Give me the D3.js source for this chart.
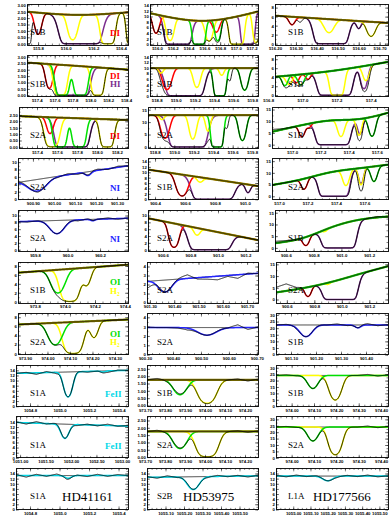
<!DOCTYPE html>
<html>
<head>
<meta charset="utf-8">
<script src="https://cdn.jsdelivr.net/npm/d3@7"></script>
<style>
  body { margin: 0; background: #fff; }
  svg { display: block; }
</style>
</head>
<body>
<svg id="chart" width="389" height="518"></svg>
<script>
// ---- data: one entry per panel, row by row (3 stars x 10 line windows) ----
const panelNames = ["S1B","S1B","S1B", "S1B","S1B","S1B", "S2A","S2A","S1B", "S2A","S1B","S2A",
  "S2A","S2A","S1B", "S1B","S2A","S2A", "S2A","S2A","S1B", "S1A","S1B","S1B",
  "S1A","S2A","S2A", "S1A","S2B","L1A"];
const starNames = ["HD41161", "HD53975", "HD177566"];
const speciesTags = [["DI"], ["DI","HI"], ["DI"], ["NI"], ["NI"], ["OI","H2"], ["OI","H2"], ["FeII"], ["FeII"], []];

const xDomains = [
  [515.72,516.45],[515.91,517.28],[516.20,516.74],
  [517.29,518.42],[518.73,519.86],[516.84,517.50],
  [517.22,518.31],[518.73,519.86],[516.857,517.678],
  [900.829,901.352],[900.353,901.087],[516.95,517.764],
  [959.695,960.372],[900.491,901.291],[900.521,901.336],
  [973.687,974.42],[901.288,901.745],[900.521,901.336],
  [973.869,974.358],[900.307,900.704],[901.04,901.488],
  [1054.705,1055.464],[973.71,974.265],[973.93,974.431],
  [1050.92,1053.12],[973.71,974.265],[973.93,974.431],
  [1054.705,1055.464],[1055.0,1055.6],[1054.9,1055.55]
];
const xTicks = [
  ["515.8","516.0","516.2","516.4"],["516.0","516.2","516.4","516.6","516.8","517.0","517.2"],["516.20","516.30","516.40","516.50","516.60","516.70"],
  ["517.4","517.6","517.8","518.0","518.2","518.4"],["518.8","519.0","519.2","519.4","519.6","519.8"],["516.8","517.0","517.2","517.4"],
  ["517.4","517.6","517.8","518.0","518.2"],["518.8","519.0","519.2","519.4","519.6","519.8"],["516.8","517.0","517.2","517.4","517.6"],
  ["900.90","901.00","901.10","901.20","901.30"],["900.4","900.6","900.8","901.0"],["517.0","517.2","517.4","517.6"],
  ["959.8","960.0","960.2"],["900.6","900.8","901.0","901.2"],["900.6","900.8","901.0","901.2"],
  ["973.8","974.0","974.2","974.4"],["901.30","901.40","901.50","901.60","901.70"],["900.6","900.8","901.0","901.2"],
  ["973.90","974.00","974.10","974.20","974.30"],["900.30","900.40","900.50","900.60","900.70"],["901.10","901.20","901.30","901.40"],
  ["1054.8","1055.0","1055.2","1055.4"],["973.70","973.80","973.90","974.00","974.10","974.20"],["974.00","974.10","974.20","974.30","974.40"],
  ["1051.00","1051.50","1052.00","1052.50","1053.00"],["973.70","973.80","973.90","974.00","974.10","974.20"],["974.00","974.10","974.20","974.30","974.40"],
  ["1054.8","1055.0","1055.2","1055.4"],["1055.10","1055.20","1055.30","1055.40","1055.50"],["1055.00","1055.10","1055.20","1055.30","1055.40","1055.50"]
];
const yDomains = [
  [-0.1,3.1],[-0.3,14.5],[-0.3,8.8],
  [-0.1,3.1],[-0.3,14.5],[-0.3,8.8],
  [-0.1,3.1],[-0.5,16],[-1.5,16],
  [-0.2,10.9],[-0.2,15],[-1.5,16],
  [-0.5,11.5],[-0.5,11.5],[-1.5,16],
  [-0.3,8.9],[-0.05,4.5],[-1.5,16],
  [-0.2,8.8],[0,4.4],[0,31],
  [0,16],[-0.05,2.75],[0,32],
  [0,16],[-0.05,2.75],[0,32],
  [0,16],[0,16],[0,16]
];
const Y3 = ["0.00","0.50","1.00","1.50","2.00","2.50","3.00"];
const Y14 = ["0","2","4","6","8","10","12","14"];
const Y8 = ["0","2","4","6","8"];
const Y10 = ["0","2","4","6","8","10"];
const Y15 = ["0","5","10","15"];
const Y4 = ["0","1","2","3","4"];
const Y30 = ["0","5","10","15","20","25","30"];
const Y25 = ["0.00","0.50","1.00","1.50","2.00","2.50"];
const yTicks = [Y3,Y14,Y8, Y3,Y14,Y8, Y25,Y15,Y15, Y10,Y14,Y15, Y10,Y10,Y15,
  Y8,Y4,Y15, Y8,Y4,Y30, Y14,Y25,Y30, Y14,Y25,Y30, Y14,Y14,Y14];

// continuum control values across each window
const continua = [
  [2.5,2.14,2.45],[11.2,6.9,11.8],[6.2,5.4,4.6],
  [2.55,2.3,2.0],[10,10,10],[4.1,5.2,7.4],
  [2.4,2.25,2.1],[12.8,12.8,12.8],[5.5,8.3,10.8,10.3,13.6],
  [4.5,6.8,9.0],[11,8,4.9],[4.8,6.9,10.6,11.9,13.5],
  [8.2,8.7,9.2],[9.2,6.0,2.8],[2.0,3.6,9.2,12.4,13.4],
  [6.5,7.4,8.3],[2.35,2.8,3.25],[3.0,4.8,7.4,11.0,14.2],
  [6.4,6.95,7.5],[2.9,2.9,2.9],[22.4,22.4,22.4],
  [12.8,13.4,14.0],[1.75,1.75,1.75],[24,24,24],
  [13.8,13.0,12.4],[1.75,1.75,1.75],[24,24,24],
  [13.2,13.2,13.2],[12.5,12.8,13.1],[13,13,13]
];

// absorption components: [species, centre, optical depth, width]
const components = [
  [["obs",515.713,30,0.022],["DI",515.80,1.2,0.029],["HI",516.107,50,0.080],["H2",516.05,2,0.0365],["H2",516.304,10,0.0365],["H2",516.487,20,0.029]],
  [["DI",515.986,1.0,0.05],["DI",516.75,0.7,0.05],["HI",516.265,50,0.089],["HI",517.15,30,0.05],["H2",516.164,2,0.05],["H2",516.66,2,0.05],["H2",517.01,20,0.057],["H2",517.255,3,0.038],["OI",516.53,20,0.05],["OI",516.77,2,0.038]],
  [["DI",516.281,0.35,0.019],["HI",516.468,50,0.043],["HI",516.60,0.4,0.014],["H2",516.458,0.8,0.029],["H2",516.659,1.1,0.024],["obs",516.32,0.2,0.014]],
  [["DI",517.539,1.5,0.045],["HI",517.80,50,0.10],["OI",517.685,8,0.057],["OI",517.89,8,0.057],["H2",517.663,6,0.057],["H2",518.08,8,0.051]],
  [["DI",518.908,1.5,0.052],["HI",519.096,50,0.105],["H2",518.845,0.2,0.031],["H2",519.22,1.2,0.042],["H2",519.48,0.3,0.031],["OI",519.46,15,0.042],["OI",519.72,1.6,0.042],["obs",519.565,0.6,0.021]],
  [["DI",516.963,0.5,0.02],["DI",517.033,0.3,0.018],["OI",516.898,0.7,0.02],["OI",516.992,0.7,0.023],["H2",516.922,0.6,0.023],["H2",517.202,10,0.029],["H2",517.371,0.7,0.023],["HI",517.19,50,0.053],["HI",517.36,1.5,0.023]],
  [["DI",517.53,0.8,0.04],["H2",517.55,5,0.06],["H2",518.10,8,0.05],["OI",517.63,8,0.05],["OI",517.82,8,0.05],["HI",517.75,50,0.09]],
  [["DI",518.905,1.3,0.051],["HI",519.14,50,0.103],["H2",518.874,0.15,0.031],["H2",519.19,1.4,0.041],["H2",519.346,0.7,0.031],["OI",519.44,15,0.041],["OI",519.70,1.6,0.041],["obs",519.54,0.5,0.021]],
  [["DI",517.069,0.9,0.025],["DI",517.119,0.2,0.021],["HI",517.289,50,0.064],["HI",517.48,0.9,0.021],["H2",517.345,1.1,0.028],["H2",517.473,1.0,0.021],["OI",517.565,1.2,0.028]],
  [["NI",900.919,0.9,0.052],["NI",901.162,0.15,0.019]],
  [["DI",900.58,2.0,0.04],["HI",900.787,50,0.073],["HI",901.02,0.8,0.02],["H2",900.70,0.25,0.027]],
  [["DI",517.175,0.9,0.025],["HI",517.385,50,0.056],["HI",517.575,0.8,0.021],["H2",517.469,0.9,0.028],["H2",517.575,0.9,0.021],["OI",517.666,0.7,0.028]],
  [["NI",959.935,0.6,0.055],["NI",960.156,0.05,0.018]],
  [["DI",900.68,2.4,0.036],["HI",900.942,50,0.08],["H2",900.847,0.4,0.029]],
  [["DI",900.744,1.5,0.025],["HI",900.982,50,0.065],["H2",900.882,0.1,0.022]],
  [["OI",973.953,1.3,0.053],["H2",974.033,5,0.053],["H2",974.146,0.7,0.033]],
  [["NI",901.362,0.75,0.033]],
  [["DI",900.754,1.4,0.025],["HI",900.987,50,0.066],["H2",900.90,0.1,0.022]],
  [["OI",974.034,1.25,0.036],["H2",974.114,5,0.036],["H2",974.207,0.7,0.022]],
  [["NI",900.522,0.33,0.043]],
  [["NI",901.16,0.5,0.032],["NI",901.368,0.1,0.016]],
  [["FeII",1055.058,1.3,0.034],["FeII",1055.295,0.03,0.02]],
  [["OI",973.875,0.87,0.04],["H2",974.01,2.45,0.045]],
  [["OI",974.095,0.55,0.03],["H2",974.195,1.6,0.03]],
  [["FeII",1051.88,0.55,0.1]],
  [["OI",973.875,1.1,0.04],["H2",974.01,4.5,0.045]],
  [["OI",974.095,0.6,0.03],["H2",974.195,2.3,0.03]],
  [["FeII",1055.058,0.08,0.03]],
  [["FeII",1055.25,0.5,0.04]],
  [["FeII",1055.2,0.15,0.04]]
];

// observed-minus-model wiggles, evenly spread over each window (null = none)
const residuals = [
  null,null,null, null,null,null, null,null,[1.0,0.3,0,0,0,0,0,0,0,0,0,0],
  [0.4,0.2,-0.3,0.2,-0.2,0.3,-0.3,0.2,0.3,-0.2,0.3,0],null,null,
  [0,-0.2,0.1,-0.1,0,0.2,-0.3,0.2,0,0.3,-0.2,0.1],null,[0.8,0.5,0.2,0,0,0,0,0,0,0,0.4,-0.3],
  null,[-0.8,0.1,0,0.1,0.4,-0.15,-0.25,-0.4,-0.1,-0.4,0.1,-0.05],[2.2,3.0,0.8,0,0,0,0,0,0,0,0,0],
  null,[0.05,0,0,-0.05,-0.2,-0.05,0,0.05,0,0.3,-0.2,0.05],[0,0.5,-0.5,0,0.3,0,0.8,-0.5,0,1.0,-0.6,0.3],
  [0,0.3,-0.6,0.4,-0.5,0,0.2,-0.3,0,-0.6,0.2,0],[0,0.1,-0.05,0.08,0,0,-0.03,0,0,0.06,-0.08,0.05],[0,0.5,-0.3,0,0,0,0,0,0,0.8,-0.5,0.5],
  [0.3,-0.5,0.6,-0.2,0.4,0,-0.4,0.3,-0.3,0.5,-0.2,0.2],[0,0.08,-0.05,0.05,0,0,0,0,0,0.05,-0.06,0.04],[0,0.5,-0.3,0,0,0,0,0,0,0.8,-0.5,0.5],
  [0.4,-0.6,0.5,-0.3,0.6,-0.5,0.2,-0.4,0.5,-0.3,0.4,0],[0.3,-0.4,0.5,-0.2,0.3,0,-0.3,0.4,-0.2,0.3,-0.4,0.2],[0.3,-0.3,0.4,-0.2,0.2,0,-0.3,0.3,-0.2,0.4,-0.3,0.1]
];

// ---- layout & style ----
const rowTop = r => 4 + r * 51.6;
const panelH = 41;
const leftEdges = [[27,150,275],[27,150,275],[19,148,272],[18,148,272],[18,148,275],
  [18,147,276],[18,147,276],[16,147,276],[16,147,276],[16,147,276]];
const rightEdges = [128, 258, 388];
const nameX = [30, 157, 288];
const starX = [62, 183, 313];
const speciesColor = {DI: "#ff0000", HI: "#7b2d8e", H2: "#ffff00", OI: "#00e000", NI: "#2424ff", FeII: "#00d8e8"};
const drawOrder = ["HI", "DI", "H2", "OI", "NI", "FeII"];
const contStyle = ["olive","olive","olive","olive","olive","green","olive","olive","green","plain","olive","green",
  "plain","olive","green","olive","plain","green","olive","plain","plain","plain","olive","plain",
  "plain","olive","plain","plain","plain","plain"];
const contColor = {olive: "#8a7d00", green: "#10c010"};
const tickFont = "Liberation Sans, Arial, sans-serif";
const textFont = "Liberation Serif, Times New Roman, serif";

const svg = d3.select("#chart");
const defs = svg.append("defs");
const nSamples = 400;

function minorValues(major, lo, hi, parts) {
  const step = (major[1] - major[0]) / parts;
  const out = [];
  const start = major[0] + Math.ceil((lo - major[0]) / step) * step;
  for (let v = start; v <= hi + 1e-9; v += step) out.push(v);
  return out;
}

function styleAxis(g) {
  g.attr("font-size", 4.3).attr("font-family", tickFont).attr("font-weight", "bold");
  g.select(".domain").remove();
  g.selectAll("line").attr("stroke-width", 0.5);
}

for (let i = 0; i < panelNames.length; i++) {
  const r = Math.floor(i / 3), c = i % 3;
  const L = leftEdges[r][c], R = rightEdges[c], T = rowTop(r), B = T + panelH;
  const [a, b] = xDomains[i];
  const x = d3.scaleLinear().domain(xDomains[i]).range([L, R]);
  const y = d3.scaleLinear().domain(yDomains[i]).range([B, T]);

  defs.append("clipPath").attr("id", "clip" + i)
    .append("rect").attr("x", L).attr("y", T).attr("width", R - L).attr("height", panelH);

  const g = svg.append("g");
  const plot = g.append("g").attr("clip-path", `url(#clip${i})`);

  const cont = d3.interpolateBasis(continua[i]);
  const resid = residuals[i] ? d3.piecewise(d3.interpolateNumber, residuals[i]) : () => 0;
  const comps = components[i];
  const tau = (wl, keep) => d3.sum(comps.filter(keep), d => d[2] * Math.exp(-(((wl - d[1]) / d[3]) ** 2)));
  const grid = d3.range(nSamples + 1).map(j => a + (b - a) * j / nSamples);
  const tOf = wl => (wl - a) / (b - a);
  const line = d3.line().x(d => x(d[0])).y(d => y(d[1]));

  const contPts = grid.map(wl => [wl, cont(tOf(wl))]);
  const style = contStyle[i];

  if (style === "plain") {
    plot.append("path").attr("d", line(contPts)).attr("fill", "none")
      .attr("stroke", "#000").attr("stroke-width", 0.8);
  }

  const present = drawOrder.filter(s => comps.some(d => d[0] === s));
  present.forEach(s => {
    const pts = grid.map(wl => [wl, cont(tOf(wl)) * Math.exp(-tau(wl, d => d[0] === s))]);
    plot.append("path").attr("d", line(pts)).attr("fill", "none")
      .attr("stroke", speciesColor[s]).attr("stroke-width", 1.5).attr("stroke-linejoin", "round");
  });

  if (style !== "plain") {
    plot.append("path").attr("d", line(contPts)).attr("fill", "none")
      .attr("stroke", contColor[style]).attr("stroke-width", 2.2);
    plot.append("path").attr("d", line(contPts)).attr("fill", "none")
      .attr("stroke", "#000").attr("stroke-width", 0.6);
  }

  const obs = grid.map(wl => [wl, cont(tOf(wl)) * Math.exp(-tau(wl, () => true)) + resid(tOf(wl))]);
  plot.append("path").attr("d", line(obs)).attr("fill", "none")
    .attr("stroke", "#000").attr("stroke-width", 0.9).attr("stroke-linejoin", "round");

  // frame
  g.append("rect").attr("x", L).attr("y", T).attr("width", R - L).attr("height", panelH)
    .attr("fill", "none").attr("stroke", "#000").attr("stroke-width", 0.9)
    .attr("shape-rendering", "crispEdges");

  // x axes (bottom with labels, top without), major + minor ticks
  const xs = xTicks[i].filter(s => x(+s) >= L - 7 && x(+s) <= Math.min(R + 7, 382));
  const xv = xs.map(Number);
  const xAll = xTicks[i].map(Number);
  const xb = g.append("g").attr("transform", `translate(0,${B})`)
    .call(d3.axisBottom(x).tickValues(xv).tickFormat((d, j) => xs[j])
      .tickSizeInner(-3).tickSizeOuter(0).tickPadding(2.3));
  xb.selectAll(".tick").filter(d => d < a || d > b).select("line").remove();
  styleAxis(xb);
  const xMinor = minorValues(xAll, a, b, 4);
  g.append("g").attr("transform", `translate(0,${B})`)
    .call(d3.axisBottom(x).tickValues(xMinor).tickFormat("").tickSizeInner(-1.5).tickSizeOuter(0)).call(styleAxis);
  g.append("g").attr("transform", `translate(0,${T})`)
    .call(d3.axisTop(x).tickValues(xv.filter(v => v >= a && v <= b)).tickFormat("").tickSizeInner(-3).tickSizeOuter(0)).call(styleAxis);
  g.append("g").attr("transform", `translate(0,${T})`)
    .call(d3.axisTop(x).tickValues(xMinor).tickFormat("").tickSizeInner(-1.5).tickSizeOuter(0)).call(styleAxis);

  // y axes
  const ys = yTicks[i];
  const yv = ys.map(Number);
  const [y0, y1] = yDomains[i];
  g.append("g").attr("transform", `translate(${L},0)`)
    .call(d3.axisLeft(y).tickValues(yv).tickFormat((d, j) => ys[j]).tickSizeInner(-3).tickSizeOuter(0).tickPadding(1.2))
    .call(styleAxis);
  const yMinor = minorValues(yv, y0, y1, 2);
  g.append("g").attr("transform", `translate(${L},0)`)
    .call(d3.axisLeft(y).tickValues(yMinor).tickFormat("").tickSizeInner(-1.5).tickSizeOuter(0)).call(styleAxis);
  g.append("g").attr("transform", `translate(${R},0)`)
    .call(d3.axisRight(y).tickValues(yv).tickFormat("").tickSizeInner(-3).tickSizeOuter(0)).call(styleAxis);
  g.append("g").attr("transform", `translate(${R},0)`)
    .call(d3.axisRight(y).tickValues(yMinor).tickFormat("").tickSizeInner(-1.5).tickSizeOuter(0)).call(styleAxis);

  // segment name
  g.append("text").attr("x", nameX[c]).attr("y", T + 31)
    .attr("font-family", textFont).attr("font-size", 9).attr("fill", "#000")
    .text(panelNames[i]);

  // species tags in the first column
  if (c === 0) {
    const tags = speciesTags[r];
    tags.forEach((s, k) => {
      const baseY = tags.length === 1 ? T + 32 : T + 23 + k * 8.5;
      const t = g.append("text").attr("x", s === "FeII" ? 105 : 110).attr("y", baseY)
        .attr("font-family", textFont).attr("font-size", 9).attr("font-weight", "bold")
        .attr("fill", speciesColor[s]);
      if (s === "H2") {
        t.append("tspan").text("H");
        t.append("tspan").attr("font-size", 5.5).attr("dy", 2).text("2");
      } else {
        t.text(s);
      }
    });
  }

  // star names in the last row
  if (r === 9) {
    g.append("text").attr("x", starX[c]).attr("y", T + 33)
      .attr("font-family", textFont).attr("font-size", 13).attr("fill", "#000")
      .text(starNames[c]);
  }
}
</script>
</body>
</html>
